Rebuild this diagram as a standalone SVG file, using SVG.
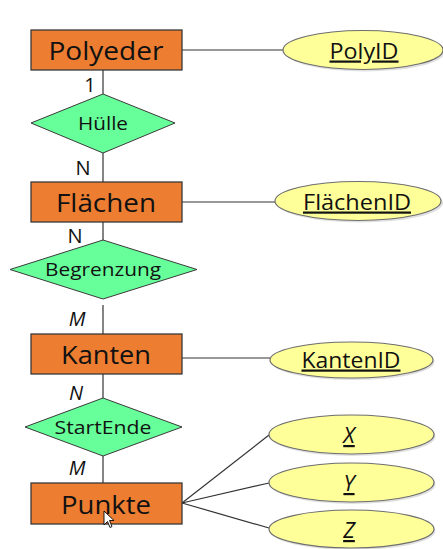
<svg xmlns="http://www.w3.org/2000/svg" width="443" height="549" viewBox="0 0 443 549">
<defs>
<style>
.ent{fill:#ED7D31;stroke:#3a3a3a;stroke-width:1.3}
.rel{fill:#66FF99;stroke:#3a3a3a;stroke-width:1}
.att{fill:#FFFF99;stroke:#6e6e6e;stroke-width:1.2}
.sh{fill:#000;opacity:0.12}
.ln{stroke:#333;stroke-width:1.2;fill:none}
.et{font-family:"Open Sans","Noto Sans",sans-serif;font-size:26px;fill:#111;text-anchor:middle}
.rt{font-family:"Open Sans","Noto Sans",sans-serif;font-size:19px;fill:#111;text-anchor:middle}
.at{font-family:"Open Sans","Noto Sans",sans-serif;font-size:22px;fill:#111;text-anchor:middle;text-decoration:underline}
.ct{font-family:"Open Sans","Noto Sans",sans-serif;font-size:20px;fill:#111;text-anchor:middle}
.it{font-style:italic}
</style>
</defs>
<rect width="443" height="549" fill="#fff"/>
<g id="connectors">
<line class="ln" x1="182" y1="50" x2="283" y2="50"/>
<line class="ln" x1="103" y1="70" x2="103" y2="94"/>
<line class="ln" x1="103" y1="153" x2="103" y2="182"/>
<line class="ln" x1="182" y1="202" x2="275" y2="202"/>
<line class="ln" x1="103" y1="222" x2="103" y2="240"/>
<line class="ln" x1="103" y1="305" x2="103" y2="334"/>
<line class="ln" x1="182" y1="358" x2="270" y2="358"/>
<line class="ln" x1="103" y1="374" x2="103" y2="398"/>
<line class="ln" x1="103" y1="456" x2="103" y2="483"/>
<line class="ln" x1="182" y1="503" x2="269" y2="435"/>
<line class="ln" x1="182" y1="503" x2="269" y2="483"/>
<line class="ln" x1="182" y1="503" x2="269" y2="528"/>
<text class="ct" x="90" y="92">1</text>
<text class="ct" x="83" y="175">N</text>
<text class="ct" x="75" y="243">N</text>
<text class="ct it" x="77" y="326">M</text>
<text class="ct it" x="76" y="400">N</text>
<text class="ct it" x="77" y="475">M</text>
</g>
<g id="Polyeder">
<rect class="ent" x="31" y="30" width="151" height="40"/>
<text class="et" x="106" y="60" textLength="115" lengthAdjust="spacingAndGlyphs">Polyeder</text>
</g>
<g id="PolyID">
<ellipse class="sh" cx="365" cy="52" rx="80" ry="19.5"/>
<ellipse class="att" cx="363" cy="50" rx="80" ry="19.5"/>
<text class="at" x="364" y="58.5" textLength="69" lengthAdjust="spacingAndGlyphs">PolyID</text>
</g>
<g id="Huelle">
<polygon class="rel" points="103,94 175,123 103,153 31,123"/>
<text class="rt" x="103" y="130" textLength="50" lengthAdjust="spacingAndGlyphs">Hülle</text>
</g>
<g id="Flaechen">
<rect class="ent" x="31" y="182" width="151" height="40"/>
<text class="et" x="106" y="211.5" textLength="100" lengthAdjust="spacingAndGlyphs">Flächen</text>
</g>
<g id="FlaechenID">
<ellipse class="sh" cx="360" cy="203" rx="83" ry="19.5"/>
<ellipse class="att" cx="358" cy="201" rx="83" ry="19.5"/>
<text class="at" x="357" y="209.5" textLength="108" lengthAdjust="spacingAndGlyphs">FlächenID</text>
</g>
<g id="Begrenzung">
<polygon class="rel" points="103,240 197,269.5 103,299 10,269.5"/>
<text class="rt" x="103" y="276" textLength="116" lengthAdjust="spacingAndGlyphs">Begrenzung</text>
</g>
<g id="Kanten">
<rect class="ent" x="31" y="334" width="151" height="40"/>
<text class="et" x="106" y="364" textLength="90" lengthAdjust="spacingAndGlyphs">Kanten</text>
</g>
<g id="KantenID">
<ellipse class="sh" cx="353" cy="362" rx="81.5" ry="18"/>
<ellipse class="att" cx="351.5" cy="360" rx="81.5" ry="18"/>
<text class="at" x="351" y="367.5" textLength="99" lengthAdjust="spacingAndGlyphs">KantenID</text>
</g>
<g id="StartEnde">
<polygon class="rel" points="103,398 182,427 103,456 25,427"/>
<text class="rt" x="103" y="434" textLength="97" lengthAdjust="spacingAndGlyphs">StartEnde</text>
</g>
<g id="Punkte">
<rect class="ent" x="31" y="483" width="151" height="41"/>
<text class="et" x="106" y="514" textLength="90" lengthAdjust="spacingAndGlyphs">Punkte</text>
</g>
<g id="X">
<ellipse class="sh" cx="353" cy="436.5" rx="82.5" ry="19.5"/>
<ellipse class="att" cx="351.5" cy="434.5" rx="82.5" ry="19.5"/>
<text class="at it" x="349" y="443">X</text>
</g>
<g id="Y">
<ellipse class="sh" cx="353" cy="484.5" rx="82.5" ry="19.5"/>
<ellipse class="att" cx="351.5" cy="482.5" rx="82.5" ry="19.5"/>
<text class="at it" x="349" y="491">Y</text>
</g>
<g id="Z">
<ellipse class="sh" cx="353" cy="531" rx="82.5" ry="19"/>
<ellipse class="att" cx="351.5" cy="529" rx="82.5" ry="19"/>
<text class="at it" x="349" y="538">Z</text>
</g>
<g id="cursor">
<polygon points="104,511 104,525 107.5,521.5 110,527.5 112,526.5 109.5,520.5 114,520.5" fill="#fff" stroke="#000" stroke-width="0.9" stroke-linejoin="round"/>
</g>
</svg>
